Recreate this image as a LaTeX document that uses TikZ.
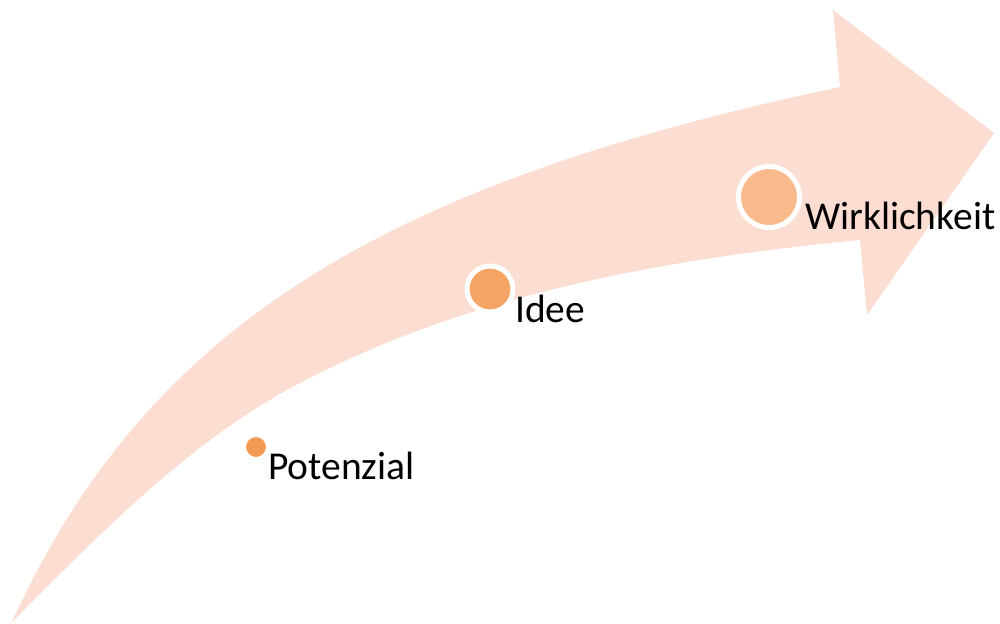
\documentclass[tikz,border=0pt]{standalone}
\usepackage{fontspec}
\setmainfont{Carlito}
\definecolor{arrowpink}{HTML}{FCDDD1}
\definecolor{dotA}{HTML}{F39A55}
\definecolor{dotB}{HTML}{F5A464}
\definecolor{dotC}{HTML}{F8BA8B}
\tikzset{
  stage/.style={circle, inner sep=0pt, draw=white, line width=5pt},
  lbl/.style={anchor=base west, inner sep=0pt, font=\fontsize{39.5}{47}\selectfont, text=black}
}
\begin{document}
\begin{tikzpicture}[x=1pt,y=-1pt]
\useasboundingbox (0,0) rectangle (1000,623);
% curved arrow
\fill[arrowpink] (12,622) .. controls (148.6,321.7) and (390,182.2) .. (840,87)
  -- (833,10) -- (994,133) -- (867,315) -- (860,240)
  .. controls (668,258.5) and (471,293) .. (300,383)
  .. controls (189,441) and (100,534) .. (12,622) -- cycle;
% stages
\node[stage, fill=dotA, line width=2pt, minimum size=22pt] (p) at (256,447) {};
\node[stage, fill=dotB, minimum size=46pt] (i) at (490,289) {};
\node[stage, fill=dotC, minimum size=61pt] (w) at (769,197) {};
\node[lbl] (pl) at (268,479) {Potenzial};
\node[lbl] (il) at (515,322) {Idee};
\node[lbl] (wl) at (805,229) {Wirklichkeit};
\end{tikzpicture}
\end{document}
